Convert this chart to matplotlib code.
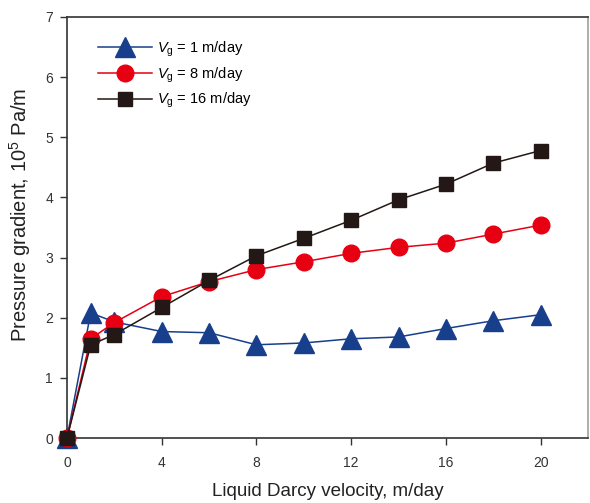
import matplotlib
matplotlib.use("Agg")
import matplotlib.pyplot as plt

plt.rcParams['font.family'] = ['Liberation Sans', 'DejaVu Sans']
plt.rcParams['mathtext.fontset'] = 'custom'
plt.rcParams['mathtext.rm'] = 'Liberation Sans'
plt.rcParams['mathtext.it'] = 'Liberation Sans:italic'

x = [0, 1, 2, 4, 6, 8, 10, 12, 14, 16, 18, 20]
vg1 = [0, 2.08, 1.93, 1.77, 1.75, 1.55, 1.58, 1.65, 1.68, 1.82, 1.95, 2.05]
vg8 = [0, 1.65, 1.92, 2.35, 2.60, 2.80, 2.93, 3.07, 3.17, 3.24, 3.39, 3.54]
vg16 = [0, 1.55, 1.72, 2.17, 2.62, 3.03, 3.32, 3.62, 3.96, 4.22, 4.57, 4.78]
labels = [r'$V_{\rm g}$ = 1 m/day', r'$V_{\rm g}$ = 8 m/day', r'$V_{\rm g}$ = 16 m/day']
xticks = [0, 4, 8, 12, 16, 20]
yticks = [0, 1, 2, 3, 4, 5, 6, 7]

fig = plt.figure(figsize=(5.9, 5.03), dpi=100)
ax = fig.add_axes([67/590, 1-438/503, (588-67)/590, (438-17)/503])

ax.plot(x, vg1, color='#173f8c', lw=1.1, marker='^', ms=14, mec='#173f8c', mfc='#173f8c', label=labels[0], clip_on=False, zorder=3)
ax.plot(x, vg8, color='#e60012', lw=1.1, marker='o', ms=12, mec='#e60012', mfc='#e60012', label=labels[1], clip_on=False, zorder=4)
ax.plot(x, vg16, color='#231815', lw=1.1, marker='s', ms=10, mec='#231815', mfc='#231815', label=labels[2], clip_on=False, zorder=5)

ax.set_xlim(0, 22)
ax.set_ylim(0, 7)
ax.set_xticks(xticks)
ax.set_yticks(yticks)
ax.tick_params(direction='out', length=5, width=1, labelsize=10, pad=5, colors='#333333')
ax.tick_params(axis='x', pad=8)
for s in ['left', 'bottom', 'top']:
    ax.spines[s].set_color('#333333')
    ax.spines[s].set_linewidth(1.2)
ax.spines['right'].set_color('#a0a0a0')
ax.spines['right'].set_linewidth(1.2)

ax.set_xlabel('Liquid Darcy velocity, m/day', fontsize=13.5, labelpad=9, color='#222222')
ax.set_ylabel(r'Pressure gradient, 10$^{5}$ Pa/m', fontsize=14.5, color='#222222')
ax.yaxis.set_label_coords(-0.066, 0.53)

leg = ax.legend(loc='upper left', bbox_to_anchor=(0.035, 0.978), frameon=False, fontsize=10.5,
                handlelength=3.7, handletextpad=0.35, labelspacing=0.45)

fig.savefig('out.png', dpi=100)
